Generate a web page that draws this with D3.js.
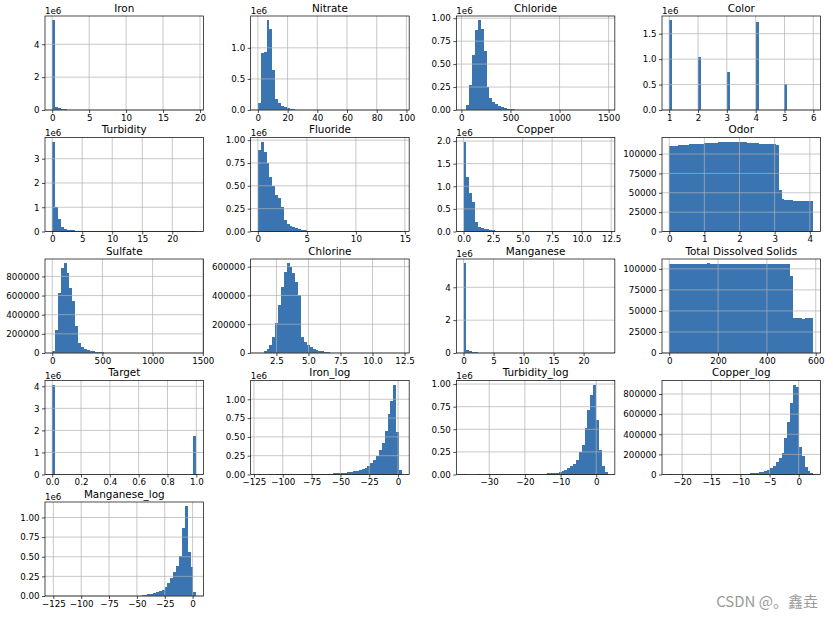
<!DOCTYPE html>
<html>
<head>
<meta charset="utf-8">
<script src="https://cdn.jsdelivr.net/npm/d3@7"></script>
<style>
  body { margin: 0; background: #fff; }
  svg { font-family: "DejaVu Sans", sans-serif; }
</style>
</head>
<body>
<svg id="chart" width="833" height="617"></svg>
<script>
// bin counts in thousands, 50 bins per column
const ironCounts = [5450, 200, 130, 80, 50, 30, 20, 12, 8, 6,
  4, 3, 2, 2, 1.5, 1.2, 1, 0.8, 0.7, 0.6,
  0.5, 0.4, 0.35, 0.3, 0.25, 0.2, 0.18, 0.15, 0.12, 0.1,
  0.09, 0.08, 0.07, 0.06, 0.05, 0.04, 0.035, 0.03, 0.025, 0.02,
  0.018, 0.015, 0.012, 0.01, 0.008, 0.006, 0.005, 0.004, 0.003, 0.002];
const nitrateCounts = [120, 920, 930, 1440, 1300, 640, 180, 110, 70, 45,
  30, 20, 12, 7, 4, 3, 2, 1.5, 1, 0.8,
  0.6, 0.5, 0.4, 0.3, 0.25, 0.2, 0.15, 0.12, 0.1, 0.08,
  0.06, 0.05, 0.04, 0.03, 0.025, 0.02, 0.015, 0.012, 0.01, 0.008,
  0.006, 0.005, 0.004, 0.003, 0.003, 0.002, 0.002, 0.001, 0.001, 0.001];
const chlorideCounts = [0.5, 50, 270, 600, 870, 975, 880, 640, 250, 130,
  90, 60, 40, 28, 20, 14, 10, 7, 5, 3.5,
  2.5, 1.8, 1.3, 1, 0.8, 0.6, 0.5, 0.4, 0.3, 0.25,
  0.2, 0.15, 0.12, 0.1, 0.08, 0.06, 0.05, 0.04, 0.03, 0.025,
  0.02, 0.015, 0.012, 0.01, 0.008, 0.006, 0.005, 0.004, 0.003, 0.002];
const colorCounts = [1760, 0, 0, 0, 0, 0, 0, 0, 0, 0,
  1050, 0, 0, 0, 0, 0, 0, 0, 0, 0,
  750, 0, 0, 0, 0, 0, 0, 0, 0, 0,
  1730, 0, 0, 0, 0, 0, 0, 0, 0, 0,
  520, 0, 0, 0, 0, 0, 0, 0, 0, 0.5];
const turbidityCounts = [3690, 1000, 520, 170, 110, 80, 60, 45, 35, 25,
  10, 6, 4, 3, 2, 1.5, 1.2, 1, 0.8, 0.6,
  0.5, 0.4, 0.3, 0.25, 0.2, 0.15, 0.12, 0.1, 0.08, 0.06,
  0.05, 0.04, 0.03, 0.025, 0.02, 0.015, 0.012, 0.01, 0.008, 0.006,
  0.005, 0.004, 0.003, 0.003, 0.002, 0.002, 0.001, 0.001, 0.001, 0.001];
const fluorideCounts = [890, 980, 870, 750, 600, 500, 400, 370, 270, 130,
  85, 65, 50, 38, 28, 20, 14, 10, 6, 4,
  2.5, 1.8, 1.2, 0.9, 0.7, 0.5, 0.4, 0.3, 0.25, 0.2,
  0.15, 0.12, 0.1, 0.08, 0.06, 0.05, 0.04, 0.03, 0.025, 0.02,
  0.015, 0.012, 0.01, 0.008, 0.006, 0.005, 0.004, 0.003, 0.002, 0.001];
const copperCounts = [1980, 1200, 860, 660, 220, 110, 80, 60, 45, 35,
  28, 20, 15, 10, 7, 5, 3, 2, 1.5, 1.2,
  1, 0.8, 0.6, 0.5, 0.4, 0.3, 0.25, 0.2, 0.15, 0.12,
  0.1, 0.08, 0.06, 0.05, 0.04, 0.03, 0.025, 0.02, 0.015, 0.012,
  0.01, 0.008, 0.006, 0.005, 0.004, 0.003, 0.002, 0.002, 0.001, 0.001];
const odorCounts = [110.5, 110.8, 111, 111.2, 111.5, 112, 112.3, 112.6, 112.8, 113,
  113.2, 113.6, 114, 114.2, 114.3, 114.5, 114.7, 115, 115.3, 115.5,
  115.6, 115.4, 115.5, 115.6, 115.3, 115.2, 115, 114.8, 114.5, 114.2,
  114, 113.6, 113.4, 113.2, 113, 112.8, 112.5, 111.5, 53, 41.5,
  41, 40.5, 40.3, 40, 40, 39.8, 39.6, 39.5, 39.4, 39.2];
const sulfateCounts = [20, 240, 625, 890, 935, 835, 680, 540, 280, 100,
  58, 40, 30, 22, 16, 12, 9, 7, 5, 3,
  1.5, 1, 0.7, 0.5, 0.4, 0.3, 0.25, 0.2, 0.15, 0.12,
  0.1, 0.08, 0.06, 0.05, 0.04, 0.03, 0.025, 0.02, 0.015, 0.012,
  0.01, 0.008, 0.006, 0.005, 0.004, 0.003, 0.002, 0.002, 0.001, 0.001];
const chlorineCounts = [0.5, 2, 12, 25, 55, 113, 211, 336, 458, 560,
  622, 600, 555, 490, 400, 110, 78, 55, 40, 30,
  22, 16, 11, 8, 5, 3, 1.5, 1, 0.7, 0.5,
  0.4, 0.3, 0.25, 0.2, 0.15, 0.12, 0.1, 0.08, 0.06, 0.05,
  0.04, 0.03, 0.025, 0.02, 0.015, 0.012, 0.01, 0.008, 0.005, 0.003];
const manganeseCounts = [5450, 170, 100, 50, 35, 20, 10, 6, 4, 3,
  2, 1.5, 1.2, 1, 0.8, 0.6, 0.5, 0.4, 0.3, 0.25,
  0.2, 0.15, 0.12, 0.1, 0.08, 0.06, 0.05, 0.04, 0.035, 0.03,
  0.025, 0.02, 0.018, 0.015, 0.012, 0.01, 0.009, 0.008, 0.007, 0.006,
  0.005, 0.004, 0.004, 0.003, 0.003, 0.002, 0.002, 0.002, 0.001, 0.001];
const tdsCounts = [105.8, 106.1, 105.9, 106.2, 106, 105.7, 106.3, 106, 105.9, 106.1,
  106.2, 105.8, 106, 106.4, 105.9, 106.1, 106, 105.7, 106.2, 106,
  105.9, 106.3, 106.1, 105.8, 106, 106.2, 105.9, 106.1, 106.3, 105.8,
  106, 106.1, 105.9, 106.2, 106, 105.8, 106.1, 106.3, 105.9, 106,
  106.1, 105.9, 92, 41.2, 41.1, 41.3, 41, 41.2, 41.1, 41.3];
const targetCounts = [4060, 0, 0, 0, 0, 0, 0, 0, 0, 0,
  0, 0, 0, 0, 0, 0, 0, 0, 0, 0,
  0, 0, 0, 0, 0, 0, 0, 0, 0, 0,
  0, 0, 0, 0, 0, 0, 0, 0, 0, 0,
  0, 0, 0, 0, 0, 0, 0, 0, 0, 1730];
const ironLogCounts = [0.01, 0, 0, 0, 0.01, 0, 0.01, 0.01, 0.01, 0.02,
  0.02, 0.03, 0.04, 0.05, 0.07, 0.1, 0.15, 0.2, 0.4, 0.8,
  2, 9, 10, 11, 12, 13, 14, 16, 18, 20,
  24, 28, 33, 40, 48, 60, 75, 90, 115, 150,
  190, 240, 320, 420, 580, 810, 980, 1190, 570, 58];
const turbidityLogCounts = [0.01, 0, 0, 0, 0, 0.01, 0, 0, 0.01, 0.01,
  0.01, 0.02, 0.02, 0.03, 0.04, 0.05, 0.07, 0.1, 0.2, 0.5,
  8, 9, 9, 9, 10, 10, 10, 11, 11, 12,
  13, 14, 20, 30, 40, 55, 70, 90, 120, 160,
  250, 330, 510, 710, 880, 990, 600, 270, 90, 30];
const copperLogCounts = [0.01, 0, 0, 0, 0, 0, 0.01, 0, 0, 0.01,
  0.01, 0.01, 0.02, 0.02, 0.03, 0.04, 0.05, 0.07, 0.1, 0.3,
  1, 4, 4, 5, 6, 7, 8, 9, 11, 13,
  16, 20, 26, 34, 45, 62, 83, 120, 160, 217,
  360, 517, 710, 890, 870, 270, 183, 77, 33, 12];
const manganeseLogCounts = [0.01, 0, 0, 0, 0, 0, 0, 0, 0, 0,
  0, 0, 0, 0.01, 0, 0, 0, 0.01, 0, 0,
  0.01, 0.01, 0.01, 0.02, 0.02, 0.03, 0.05, 0.1, 0.3, 1,
  3, 14, 17, 21, 27, 35, 45, 60, 80, 110,
  160, 230, 300, 380, 510, 870, 1140, 560, 370, 50];

const titles = ["Iron", "Nitrate", "Chloride", "Color",
  "Turbidity", "Fluoride", "Copper", "Odor",
  "Sulfate", "Chlorine", "Manganese", "Total Dissolved Solids",
  "Target", "Iron_log", "Turbidity_log", "Copper_log", "Manganese_log"];
const counts = [ironCounts, nitrateCounts, chlorideCounts, colorCounts,
  turbidityCounts, fluorideCounts, copperCounts, odorCounts,
  sulfateCounts, chlorineCounts, manganeseCounts, tdsCounts,
  targetCounts, ironLogCounts, turbidityLogCounts, copperLogCounts, manganeseLogCounts];
// data range of each column (first bin edge, last bin edge)
const xMin = [0, 0, 22, 1, 0, 0, 0, 0, 0, 1.05, 0, 0, 0, -121.6, -37.2, -22.2, -126];
const xMax = [19.5, 97, 1490, 6, 24, 14.7, 12.2, 4.1, 1435, 12.3, 24, 590, 1, 3.4, 3.2, 2.5, 3.3];

const xTicks = [[0, 5, 10, 15, 20], [0, 20, 40, 60, 80, 100], [0, 500, 1000, 1500], [1, 2, 3, 4, 5, 6],
  [0, 5, 10, 15, 20], [0, 5, 10, 15], [0, 2.5, 5, 7.5, 10, 12.5], [0, 1, 2, 3, 4],
  [0, 500, 1000, 1500], [2.5, 5, 7.5, 10, 12.5], [0, 5, 10, 15, 20], [0, 200, 400, 600],
  [0, 0.2, 0.4, 0.6, 0.8, 1], [-125, -100, -75, -50, -25, 0], [-30, -20, -10, 0], [-20, -15, -10, -5, 0],
  [-125, -100, -75, -50, -25, 0]];
const xFmt = ["d", "d", "d", "d", "d", "d", ".1f", "d", "d", ".1f", "d", "d", ".1f", "d", "d", "d", "d"];

const yTicks = [[0, 2, 4], [0, 0.5, 1], [0, 0.25, 0.5, 0.75, 1], [0, 0.5, 1, 1.5],
  [0, 1, 2, 3], [0, 0.25, 0.5, 0.75, 1], [0, 0.5, 1, 1.5, 2], [0, 25000, 50000, 75000, 100000],
  [0, 200000, 400000, 600000, 800000], [0, 200000, 400000, 600000], [0, 2, 4], [0, 25000, 50000, 75000, 100000],
  [0, 1, 2, 3, 4], [0, 0.25, 0.5, 0.75, 1], [0, 0.25, 0.5, 0.75, 1], [0, 200000, 400000, 600000, 800000],
  [0, 0.25, 0.5, 0.75, 1]];
const yFmt = ["d", ".1f", ".2f", ".1f", "d", ".2f", ".1f", "d", "d", "d", "d", "d", "d", ".2f", ".2f", "d", ".2f"];
const yExp = [6, 6, 6, 6, 6, 6, 6, 0, 0, 0, 6, 0, 6, 6, 6, 0, 6];

const left0 = 45, colPitch = 205.67, axW = 158.5;
const top0 = 16, rowPitch = 121.5, axH = 94;
const barColor = "#3a75b1";

const svg = d3.select("#chart");

titles.forEach((title, i) => {
  const col = i % 4, row = Math.floor(i / 4);
  const g = svg.append("g")
    .attr("transform", "translate(" + (left0 + col * colPitch) + "," + (top0 + row * rowPitch) + ")");

  const data = counts[i].map(d => d * 1000);
  const lo = xMin[i], hi = xMax[i], span = hi - lo, bw = span / data.length;

  const x = d3.scaleLinear()
    .domain([lo - 0.05 * span, hi + 0.05 * span])
    .range([0, axW]);
  const y = d3.scaleLinear()
    .domain([0, d3.max(data) * 1.05])
    .range([axH, 0]);

  // bars, snapped to pixels so neighbours meet without seams
  g.selectAll("rect.bar")
    .data(data)
    .enter()
    .append("rect")
    .attr("class", "bar")
    .attr("x", (d, k) => x(lo + k * bw))
    .attr("width", (d, k) => x(lo + (k + 1) * bw) - x(lo + k * bw))
    .attr("y", d => y(d))
    .attr("height", d => axH - y(d))
    .attr("fill", barColor)
    .attr("shape-rendering", "crispEdges");

  const scale = Math.pow(10, yExp[i]);

  // grid on top of the bars
  g.selectAll("line.gx")
    .data(xTicks[i])
    .enter()
    .append("line")
    .attr("x1", d => x(d)).attr("x2", d => x(d))
    .attr("y1", 0).attr("y2", axH)
    .attr("stroke", "#b0b0b0").attr("stroke-width", 0.7);
  g.selectAll("line.gy")
    .data(yTicks[i])
    .enter()
    .append("line")
    .attr("x1", 0).attr("x2", axW)
    .attr("y1", d => y(d * scale)).attr("y2", d => y(d * scale))
    .attr("stroke", "#b0b0b0").attr("stroke-width", 0.7);

  // axes
  const xAxis = g.append("g")
    .attr("transform", "translate(0," + axH + ")")
    .call(d3.axisBottom(x)
      .tickValues(xTicks[i])
      .tickFormat(d3.format(xFmt[i]))
      .tickSize(3)
      .tickPadding(1.5)
      .tickSizeOuter(0));
  const yAxis = g.append("g")
    .call(d3.axisLeft(y)
      .tickValues(yTicks[i].map(d => d * scale))
      .tickFormat(d => d3.format(yFmt[i])(d / scale))
      .tickSize(3)
      .tickPadding(2.5)
      .tickSizeOuter(0));
  [xAxis, yAxis].forEach(a => {
    a.select(".domain").remove();
    a.selectAll("line").attr("stroke", "#000").attr("stroke-width", 0.7);
    a.selectAll("text").attr("fill", "#000").style("font-size", "8.7px").style("font-family", "DejaVu Sans");
  });

  // spines
  g.append("rect")
    .attr("width", axW).attr("height", axH)
    .attr("fill", "none")
    .attr("stroke", "#000").attr("stroke-width", 0.7);

  if (yExp[i] > 0) {
    g.append("text")
      .attr("x", 0).attr("y", -2)
      .style("font-size", "8.7px")
      .text("1e" + yExp[i]);
  }

  g.append("text")
    .attr("x", axW / 2).attr("y", -4.5)
    .attr("text-anchor", "middle")
    .style("font-size", "10.4px")
    .text(title);
});

svg.append("text")
  .attr("x", 818).attr("y", 606.5)
  .attr("text-anchor", "end")
  .attr("fill", "#9a9a9a")
  .style("font-family", "'Noto Sans CJK SC', sans-serif")
  .style("font-size", "15px")
  .text("CSDN @。鑫垚");
</script>
</body>
</html>
